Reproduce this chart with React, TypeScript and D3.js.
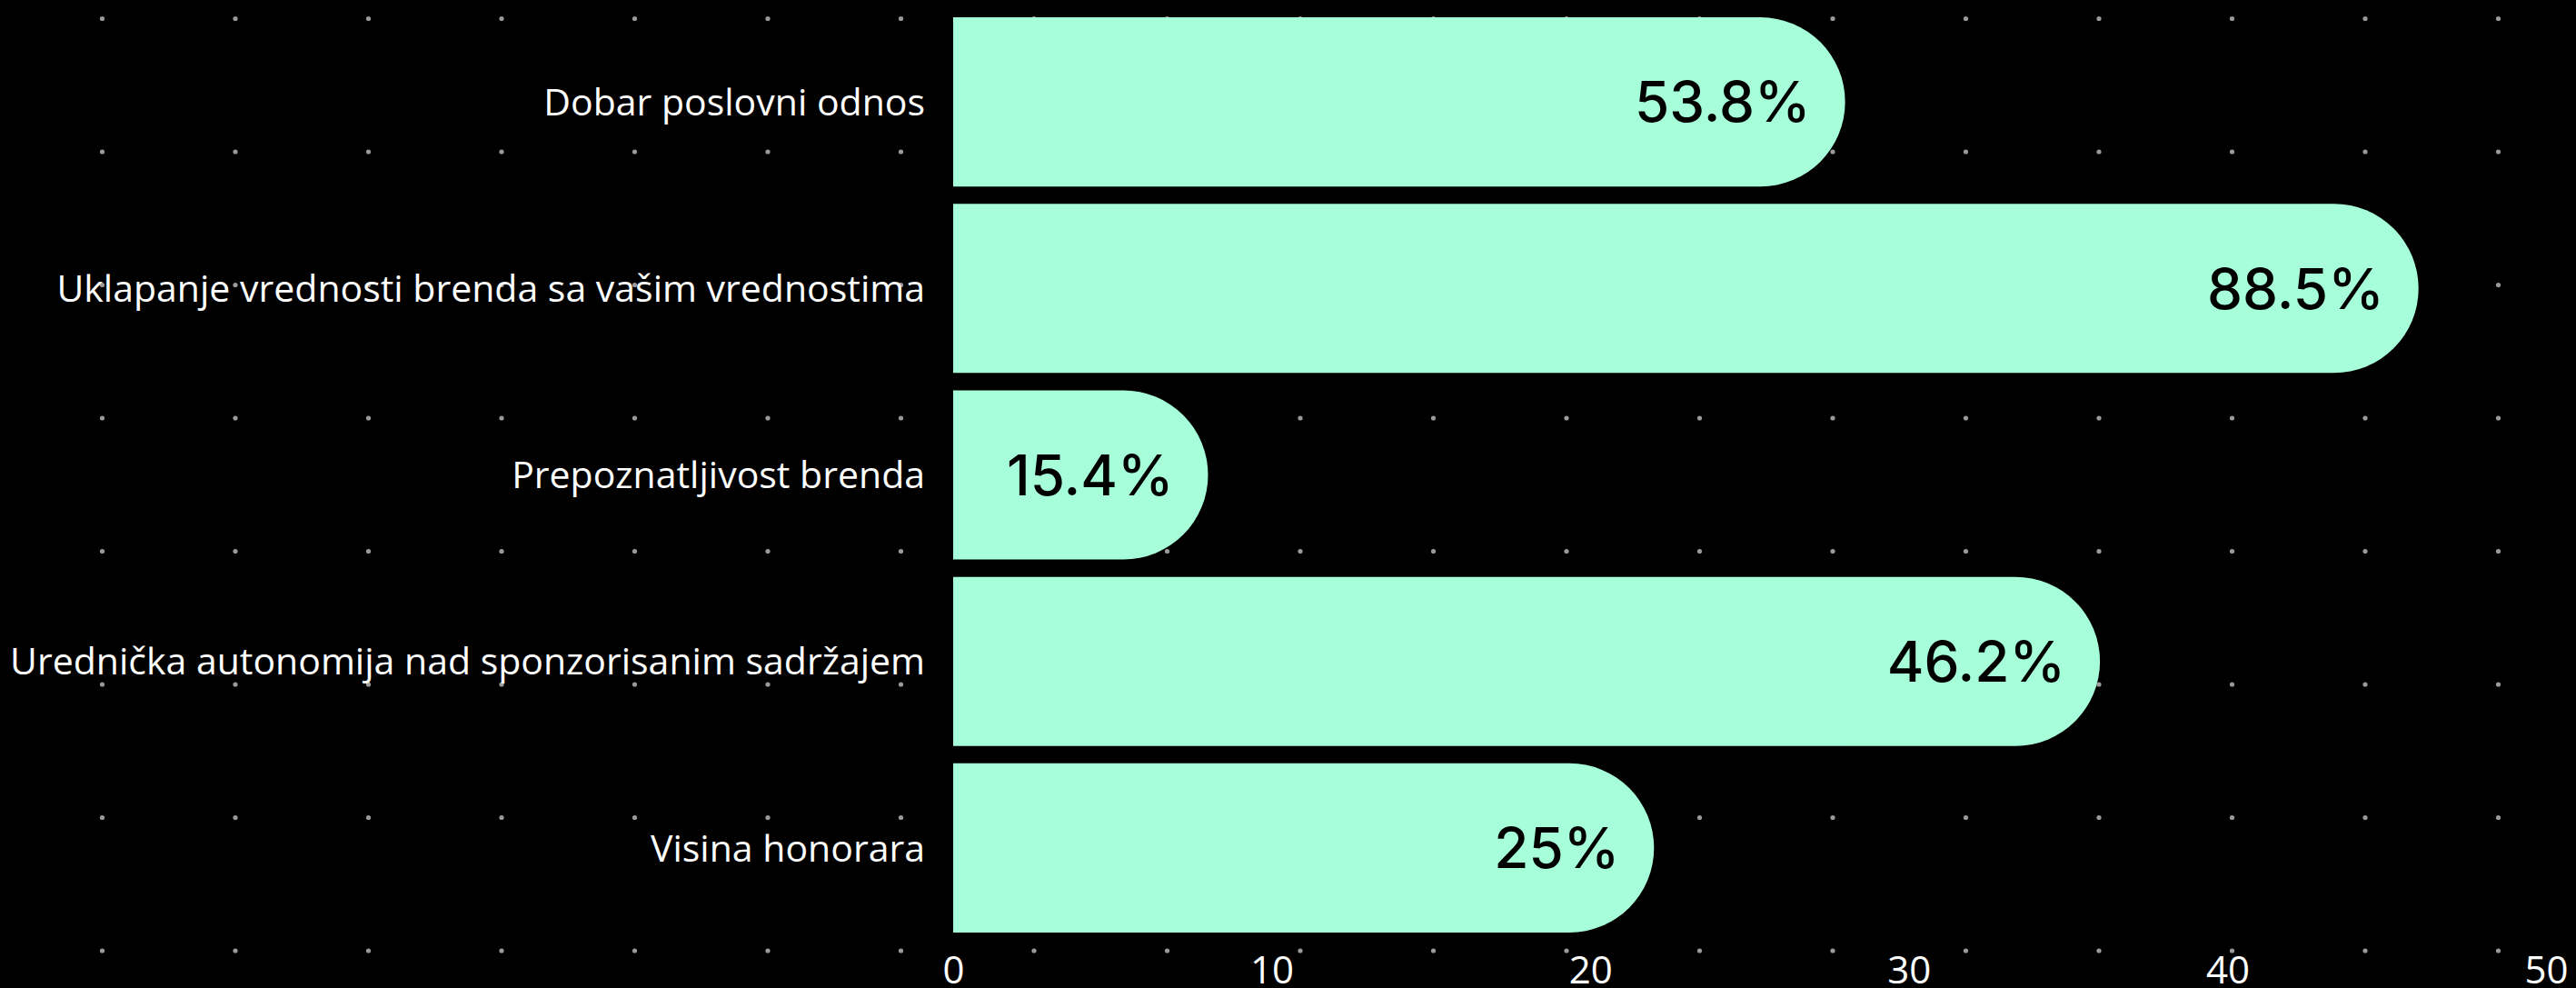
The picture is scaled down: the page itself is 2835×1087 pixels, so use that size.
import React, {useEffect, useRef} from "react";
import * as d3 from "d3";

const categories = [
	"Dobar poslovni odnos",
	"Uklapanje vrednosti brenda sa vašim vrednostima",
	"Prepoznatljivost brenda",
	"Urednička autonomija nad sponzorisanim sadržajem",
	"Visina honorara",
];
const values = [28, 46, 8, 36, 22];
const valueLabels = ["53.8%", "88.5%", "15.4%", "46.2%", "25%"];
const xTicks = [0, 10, 20, 30, 40, 50];

const WIDTH = 2835;
const HEIGHT = 1087;

const App: React.FC = () => {
	const svgRef = useRef<SVGSVGElement>(null);

	useEffect(() => {
		document.body.style.margin = "0";
		document.body.style.background = "#000";

		const svg = d3.select(svgRef.current);
		svg.selectAll("*").remove();

		const margin = {left: 1049, right: 33};

		const x = d3
			.scaleLinear()
			.domain([0, 50])
			.range([margin.left, WIDTH - margin.right]);

		const y = d3
			.scaleBand<string>()
			.domain(categories)
			.range([0, 1045])
			.padding(0.093);

		svg.append("rect").attr("width", WIDTH).attr("height", HEIGHT).attr("fill", "#000");

		// background dot pattern
		const cols = d3.range(112.5, WIDTH, 146.5);
		const rows = d3.range(20.5, HEIGHT, 146.5);
		const dots = svg.append("g");
		rows.forEach((ry) => {
			dots
				.selectAll(null)
				.data(cols)
				.enter()
				.append("circle")
				.attr("cx", (d) => d)
				.attr("cy", ry)
				.attr("r", 2.6)
				.attr("fill", "#9a9a9a");
		});

		const data = categories.map((c, i) => ({name: c, value: values[i], label: valueLabels[i]}));
		const bh = y.bandwidth();
		const r = bh / 2;

		// bars with a rounded right end
		svg
			.append("g")
			.selectAll("path")
			.data(data)
			.enter()
			.append("path")
			.attr("d", (d) => {
				const x0 = x(0);
				const x1 = x(d.value);
				const top = y(d.name) as number;
				const rr = Math.min(r, x1 - x0);
				return `M${x0},${top}H${x1 - rr}A${rr},${r} 0 0 1 ${x1 - rr},${top + bh}H${x0}Z`;
			})
			.attr("fill", "#a6ffd8");

		// value labels inside bars
		svg
			.append("g")
			.selectAll("text")
			.data(data)
			.enter()
			.append("text")
			.attr("x", (d) => x(d.value) - 38)
			.attr("y", (d) => (y(d.name) as number) + bh / 2)
			.attr("dy", "0.36em")
			.attr("text-anchor", "end")
			.style("font-family", "Inter, 'Noto Sans', sans-serif")
			.style("font-size", "62px")
			.style("font-weight", 500)
			.style("fill", "#000")
			.text((d) => d.label);

		// category labels
		svg
			.append("g")
			.selectAll("text")
			.data(data)
			.enter()
			.append("text")
			.attr("x", x(0) - 31)
			.attr("y", (d) => (y(d.name) as number) + bh / 2)
			.attr("dy", "0.36em")
			.attr("text-anchor", "end")
			.style("font-family", "'Open Sans', sans-serif")
			.style("font-size", "41px")
			.style("fill", "#fff")
			.text((d) => d.name);

		// x axis
		const axis = svg
			.append("g")
			.attr("transform", `translate(0, 1042)`)
			.call(d3.axisBottom(x).tickValues(xTicks).tickSize(0).tickPadding(10));
		axis.select(".domain").remove();
		axis
			.selectAll("text")
			.style("font-family", "'Open Sans', sans-serif")
			.style("font-size", "42px")
			.style("fill", "#fff");
	}, []);

	return <svg ref={svgRef} width={WIDTH} height={HEIGHT} style={{display: "block"}} />;
};

export default App;
